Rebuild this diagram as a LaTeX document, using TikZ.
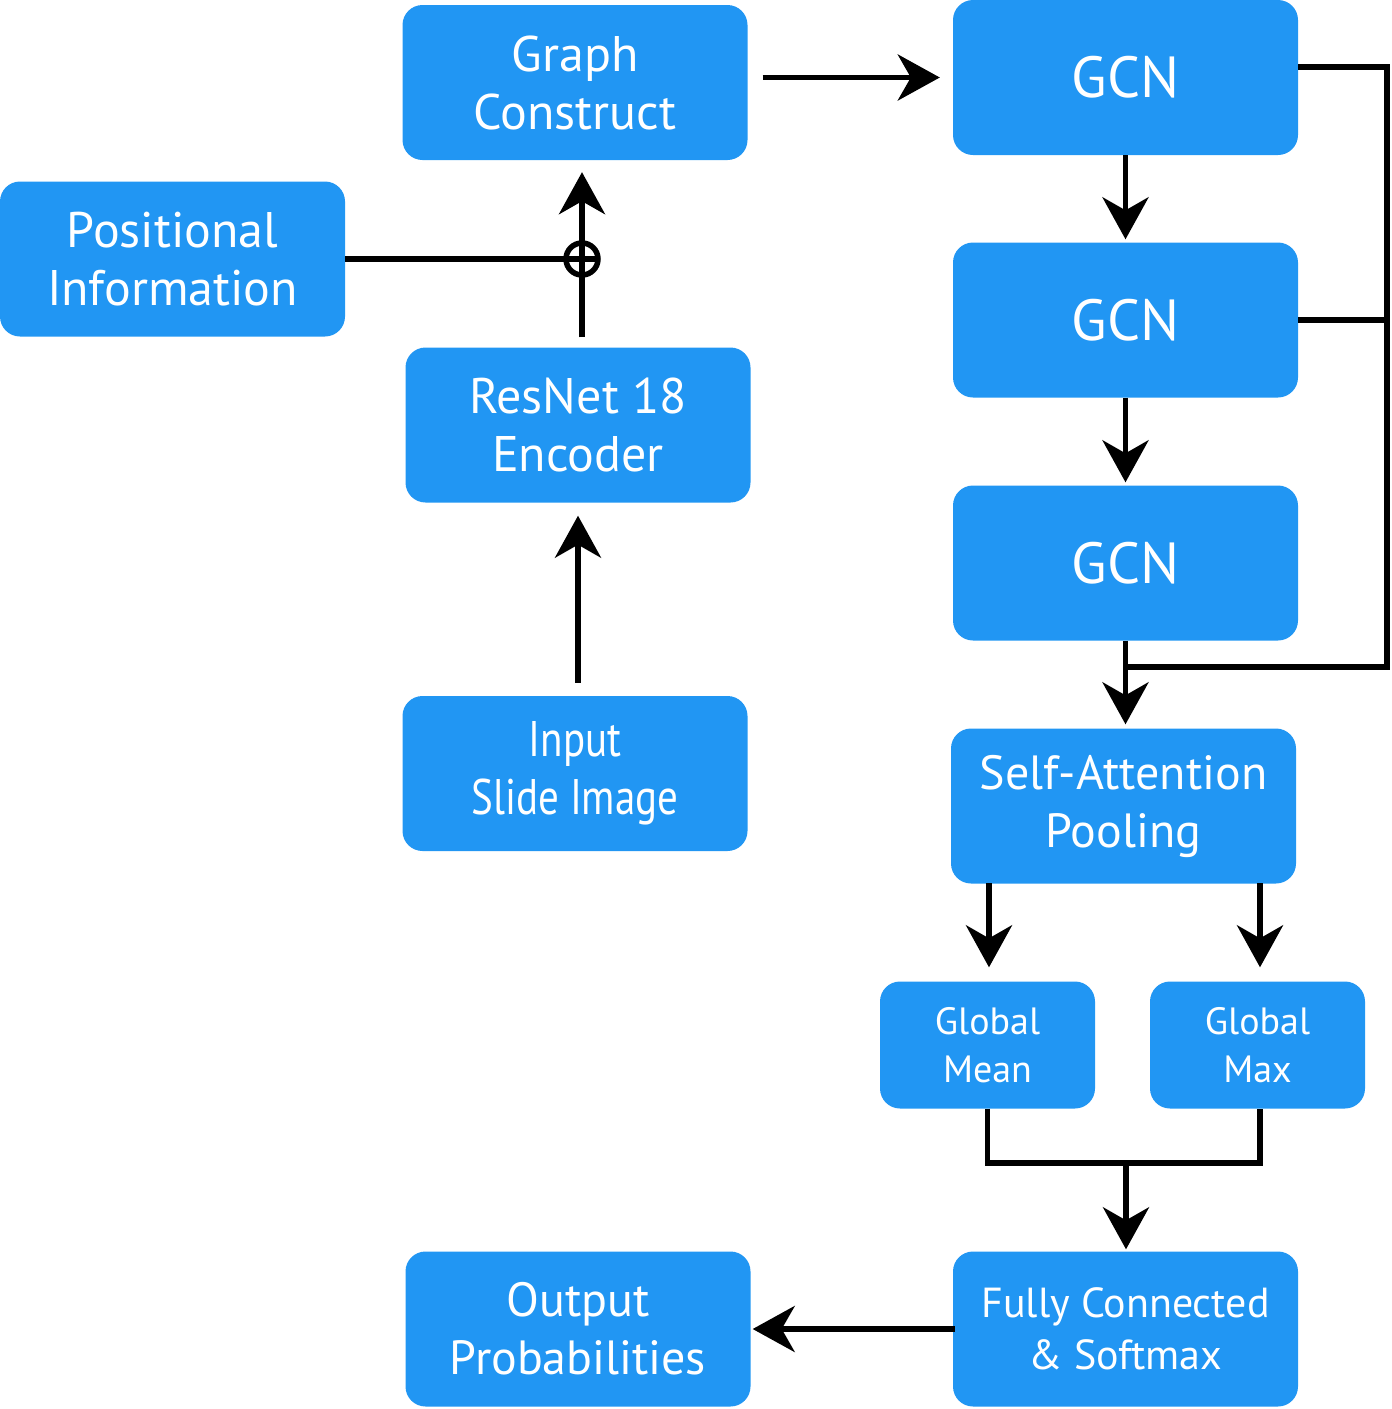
\documentclass[tikz,border=0pt]{standalone}
\usepackage{fontspec}
\setmainfont{PT Sans}
\newfontfamily\condensed[FakeStretch=0.82]{PT Sans}
\usetikzlibrary{arrows.meta}
\definecolor{gcnblue}{HTML}{2196F3}
\tikzset{
  block/.style={rounded corners=20pt, fill=gcnblue, text=white, align=center,
    minimum width=345pt, minimum height=155pt, inner sep=0pt,
    font=\fontsize{50}{58}\selectfont},
  small block/.style={block, minimum width=215pt, minimum height=127pt,
    font=\fontsize{38}{48}\selectfont},
  flow/.style={line width=5.5pt, -{Stealth[length=42pt,width=46pt,inset=13pt]}},
  wire/.style={line width=5.5pt}
}
\begin{document}
\begin{tikzpicture}[x=1pt,y=-1pt]
  \useasboundingbox (0,0) rectangle (1392,1409);
  % left column
  \node[block] (graph) at (575,82.5) {Graph\\Construct};
  \node[block] (pos) at (172.5,259) {Positional\\Information};
  \node[block] (resnet) at (578,425) {ResNet 18\\Encoder};
  \node[block, font=\condensed\fontsize{50}{58}\selectfont] (input) at (575,773.5) {Input\\Slide Image};
  \node[block, font=\fontsize{48}{58}\selectfont] (output) at (578,1329) {Output\\Probabilities};
  % right column
  \node[block, font=\fontsize{58}{64}\selectfont] (gcna) at (1125.5,77.5) {GCN};
  \node[block, font=\fontsize{58}{64}\selectfont] (gcnb) at (1125.5,320) {GCN};
  \node[block, font=\fontsize{58}{64}\selectfont] (gcnc) at (1125.5,563) {GCN};
  \node[block, font=\fontsize{48}{58}\selectfont] (sap) at (1123.5,806) {Self-Attention\\Pooling};
  \node[small block] (mean) at (987.5,1045) {Global\\Mean};
  \node[small block] (max) at (1257.5,1045) {Global\\Max};
  \node[block, font=\fontsize{42}{52}\selectfont] (fc) at (1125.5,1329) {Fully Connected\\\& Softmax};

  % feature path with positional sum
  \coordinate (sum) at (582,259);
  \draw[flow] ([yshift=13pt]input.north -| resnet) -- ([yshift=-13pt]resnet.south);
  \draw[wire] (pos.east) -- ([xshift=16pt]sum);
  \draw[flow] ([yshift=10pt]sum |- resnet.north) -- ([yshift=-12pt]sum |- graph.south);
  \draw[wire] (sum) circle (16pt);
  \draw[flow] ([xshift=15pt]graph.east |- gcna) -- ([xshift=-13pt]gcna.west);

  % GCN stack
  \draw[flow] (gcna.south) -- ([yshift=3pt]gcnb.north);
  \draw[flow] (gcnb.south) -- ([yshift=3pt]gcnc.north);
  \draw[flow] (gcnc.south) -- ([yshift=4pt]sap.north -| gcnc);
  \coordinate (skip) at (1387,667);
  \draw[wire] (gcnc.south |- skip) -- (skip) -- (skip |- 0,67) -- (gcna.east |- 0,67);
  \draw[wire] (gcnb.east) -- (skip |- gcnb);

  % pooling
  \draw[flow] (989,883) -- ([yshift=14pt]mean.north -| 989,0);
  \draw[flow] (1260,883) -- ([yshift=14pt]max.north -| 1260,0);
  \coordinate (merge) at (1126,1163);
  \draw[wire] (mean.south) -- (mean |- merge) -- (1260,1163) -- (max.south -| 1260,0);
  \draw[flow] (merge) -- ([yshift=2pt]fc.north -| merge);
  \draw[flow] ([xshift=2pt]fc.west) -- ([xshift=2pt]output.east);
\end{tikzpicture}
\end{document}
